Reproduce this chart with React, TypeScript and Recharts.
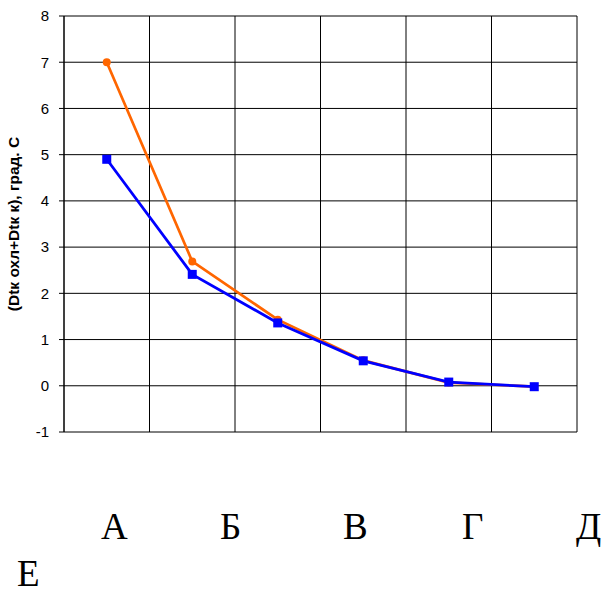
import { LineChart, Line, XAxis, YAxis, CartesianGrid, Label } from "recharts";

const categories = ["А", "Б", "В", "Г", "Д", "Е"];
const seriesOrange = [7.0, 2.69, 1.43, 0.55, 0.07, -0.02];
const seriesBlue = [4.9, 2.41, 1.36, 0.54, 0.08, -0.02];
const yTicks = [-1, 0, 1, 2, 3, 4, 5, 6, 7, 8];
const xBounds = [0, 1, 2, 3, 4, 5, 6];
const yLabel = "(Dtк охл+Dtк к), град. С";

const data = categories.map((name, i) => ({
  name,
  x: i + 0.5,
  orange: seriesOrange[i],
  blue: seriesBlue[i],
}));

// where the big captions sit under the chart (they wrap onto a second line)
const captionPos = [
  { left: 101, top: 511 },
  { left: 220, top: 511 },
  { left: 343, top: 511 },
  { left: 462, top: 511 },
  { left: 576, top: 511 },
  { left: 17, top: 558 },
];

const AXIS_FONT = "Arial, 'Liberation Sans', sans-serif";

function SquareDot(props: any) {
  const { cx, cy } = props;
  if (cx == null || cy == null) return null;
  return <rect x={cx - 4.5} y={cy - 4.5} width={9} height={9} fill="#0000FF" />;
}

function YTitle(props: any) {
  const vb = props.viewBox || { x: 0, y: 16, width: 64, height: 416 };
  const cx = 13;
  const cy = vb.y + vb.height / 2;
  return (
    <text
      x={cx}
      y={cy}
      transform={`rotate(-90 ${cx} ${cy})`}
      textAnchor="middle"
      dominantBaseline="central"
      fontFamily={AXIS_FONT}
      fontSize={15.5}
      fontWeight="bold"
      fill="#000"
    >
      {yLabel}
    </text>
  );
}

export default function App() {
  return (
    <div
      style={{
        position: "absolute",
        left: 0,
        top: 0,
        width: 603,
        height: 592,
        background: "#fff",
        overflow: "hidden",
      }}
    >
      <LineChart
        width={603}
        height={450}
        data={data}
        margin={{ top: 16, right: 26, left: 0, bottom: 18 }}
      >
        <CartesianGrid
          stroke="#000"
          strokeWidth={1}
          verticalCoordinatesGenerator={(p: any) => {
            const s = p?.xAxis?.scale;
            if (s && typeof s === "function") return xBounds.map((v) => s(v));
            if (s && typeof s.map === "function") return xBounds.map((v) => s.map(v));
            const left = p.offset.left;
            const w = p.offset.width;
            return xBounds.map((v) => left + (w * v) / 6);
          }}
        />
        <XAxis
          type="number"
          dataKey="x"
          domain={[0, 6]}
          ticks={xBounds}
          tick={false}
          tickLine={false}
          axisLine={{ stroke: "#000" }}
          height={0}
        />
        <YAxis
          type="number"
          domain={[-1, 8]}
          ticks={yTicks}
          interval={0}
          width={64}
          tickSize={5}
          tickMargin={10}
          axisLine={{ stroke: "#000" }}
          tickLine={{ stroke: "#000" }}
          tick={{ fill: "#000", fontSize: 15, fontFamily: AXIS_FONT }}
        >
          <Label content={<YTitle />} />
        </YAxis>
        <Line
          type="linear"
          dataKey="orange"
          stroke="#FF6600"
          strokeWidth={2.7}
          dot={{ r: 4, fill: "#FF6600", stroke: "#FF6600", strokeWidth: 0 }}
          activeDot={false}
          isAnimationActive={false}
        />
        <Line
          type="linear"
          dataKey="blue"
          stroke="#0000FF"
          strokeWidth={2.8}
          dot={<SquareDot />}
          activeDot={false}
          isAnimationActive={false}
        />
      </LineChart>
      {categories.map((c, i) => (
        <span
          key={c}
          style={{
            position: "absolute",
            left: captionPos[i].left,
            top: captionPos[i].top,
            fontFamily: "'Times New Roman', 'Liberation Serif', serif",
            fontSize: 37,
            lineHeight: 0.85,
            color: "#000",
          }}
        >
          {c}
        </span>
      ))}
    </div>
  );
}
